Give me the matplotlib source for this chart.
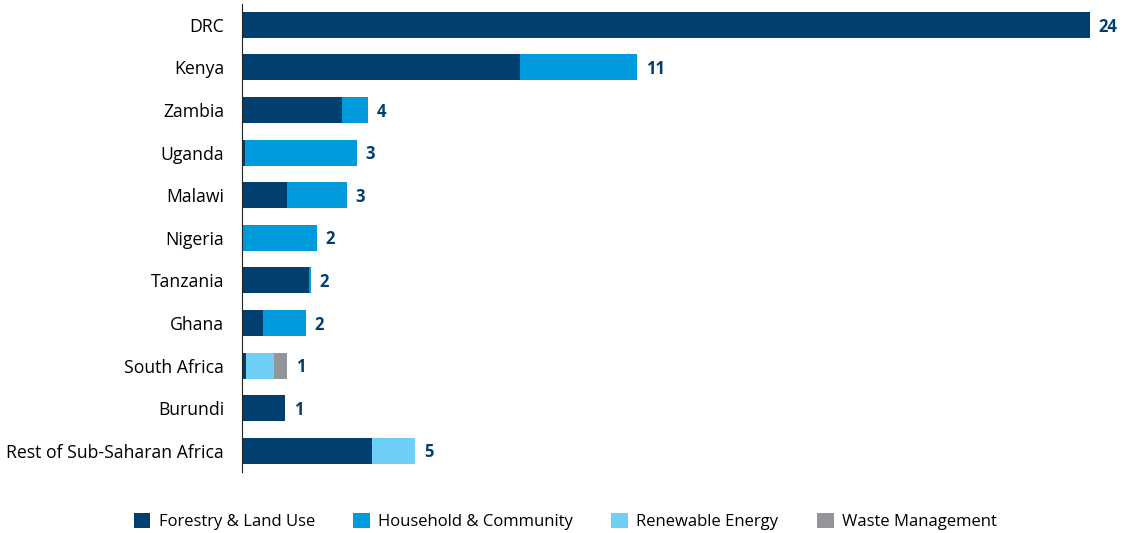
import matplotlib.pyplot as plt
import numpy as np

countries = ["DRC", "Kenya", "Zambia", "Uganda", "Malawi", "Nigeria", "Tanzania",
             "Ghana", "South Africa", "Burundi", "Rest of Sub-Saharan Africa"]
forestry = [24.0, 7.87, 2.83, 0.08, 1.27, 0.0, 1.90, 0.59, 0.11, 1.22, 3.68]
household = [0.0, 3.31, 0.74, 3.17, 1.70, 2.12, 0.05, 1.22, 0.0, 0.0, 0.0]
renewable = [0.0, 0.0, 0.0, 0.0, 0.0, 0.0, 0.0, 0.0, 0.80, 0.0, 1.22]
waste = [0.0, 0.0, 0.0, 0.0, 0.0, 0.0, 0.0, 0.0, 0.36, 0.0, 0.0]
totals = ["24", "11", "4", "3", "3", "2", "2", "2", "1", "1", "5"]

series = [("Forestry & Land Use", forestry, "#003f6e"),
          ("Household & Community", household, "#009bdc"),
          ("Renewable Energy", renewable, "#6dcff6"),
          ("Waste Management", waste, "#939598")]

plt.rcParams["font.family"] = ["Open Sans", "DejaVu Sans"]

fig = plt.figure(figsize=(11.26, 5.33), dpi=100)
ax = fig.add_axes([0.215, 0.1144, 0.753, 0.879])

y = np.arange(len(countries))
left = np.zeros(len(countries))
for name, vals, color in series:
    ax.barh(y, vals, left=left, height=0.61, color=color, label=name)
    left += np.array(vals)

for i, t in enumerate(totals):
    ax.text(left[i] + 0.25, y[i] + 0.04, t, va="center", ha="left", fontsize=12,
            fontweight="bold", color="#003f6e")

ax.set_yticks(y)
ax.set_yticklabels(countries, fontsize=12.7)
ax.tick_params(axis="y", length=0, pad=13)
for lbl in ax.get_yticklabels():
    lbl.set_y(lbl.get_position()[1])
ax.set_ylim(len(countries) - 0.5, -0.5)
ax.set_xlim(0, 24)
ax.set_xticks([])
for s in ["top", "right", "bottom"]:
    ax.spines[s].set_visible(False)
ax.spines["left"].set_color("#222222")
ax.spines["left"].set_linewidth(0.8)

fig.legend(loc="center", bbox_to_anchor=(0.502, 0.022), ncol=4, frameon=False,
           fontsize=12, handlelength=1.0, handleheight=1.0, columnspacing=2.3,
           handletextpad=0.5)

fig.savefig("out.png", dpi=100)
